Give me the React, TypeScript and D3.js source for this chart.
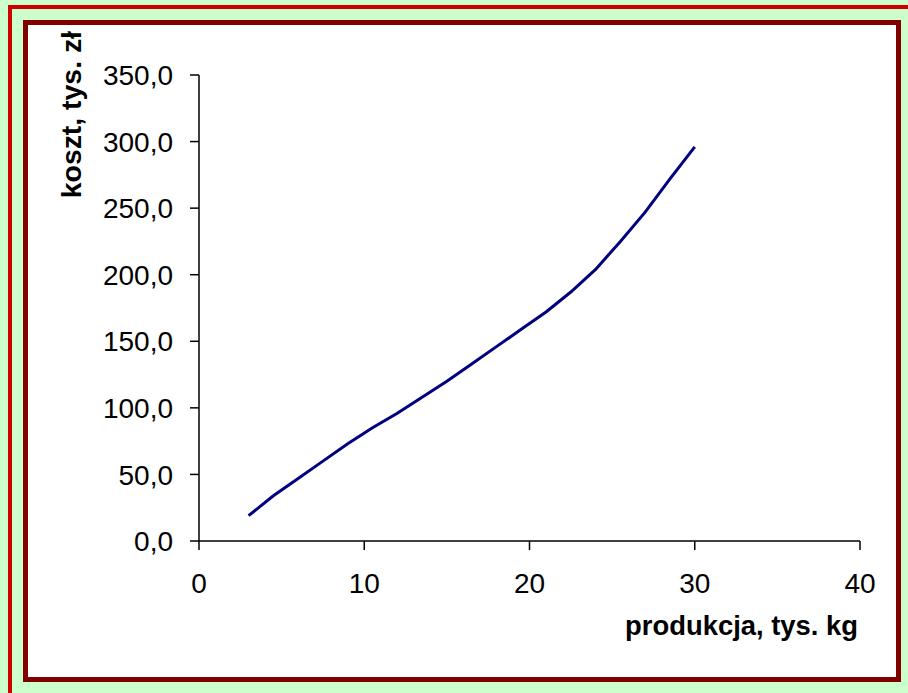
import React from "react";
import * as d3 from "d3";

const production: number[] = [3, 4.5, 6, 7.5, 9, 10.5, 12, 13.5, 15, 16.5, 18, 19.5, 21, 22.5, 24, 25.5, 27, 28.5, 30];
const cost: number[] = [19, 34, 47, 60, 73, 85, 96, 108, 120, 133, 146, 159, 172, 187, 204, 225, 247, 272, 296];
const xTicks: number[] = [0, 10, 20, 30, 40];
const yTicks: number[] = [0, 50, 100, 150, 200, 250, 300, 350];
const xTitle = "produkcja, tys. kg";
const yTitle = "koszt, tys. zł";

const W = 908;
const H = 693;

const locale = d3.formatLocale({ decimal: ",", thousands: " ", grouping: [3], currency: ["", " zł"] });
const fmtY = locale.format(".1f");
const fmtX = locale.format("d");

export default function App() {
  const x = d3.scaleLinear().domain([0, 40]).range([199, 860]);
  const y = d3.scaleLinear().domain([0, 350]).range([541, 75]);
  const pts = production.map((p, i) => [p, cost[i]] as [number, number]);
  const line = d3
    .line<[number, number]>()
    .x((d) => x(d[0]))
    .y((d) => y(d[1]))
    .curve(d3.curveLinear);
  const font = "'Liberation Sans', Arial, sans-serif";
  const tick = 9;
  return (
    <svg
      width={W}
      height={H}
      style={{ position: "absolute", left: 0, top: 0, display: "block" }}
      fontFamily={font}
    >
      <rect x={0} y={0} width={W} height={H} fill="#CCFFCC" />
      <rect x={10} y={7} width={1000} height={1000} fill="none" stroke="#CC0000" strokeWidth={4} />
      <rect x={25.5} y={22.5} width={873} height={657} fill="#FFFFFF" stroke="#800000" strokeWidth={5} />
      {/* y axis */}
      <line x1={x(0)} x2={x(0)} y1={y(350)} y2={y(0)} stroke="#000" strokeWidth={1.5} />
      {yTicks.map((t) => (
        <g key={"y" + t}>
          <line x1={x(0) - tick} x2={x(0)} y1={y(t)} y2={y(t)} stroke="#000" strokeWidth={1.5} />
          <text x={173} y={y(t)} dy="0.36em" textAnchor="end" fontSize={28} fill="#000">
            {fmtY(t)}
          </text>
        </g>
      ))}
      {/* x axis */}
      <line x1={x(0)} x2={x(40)} y1={y(0)} y2={y(0)} stroke="#000" strokeWidth={1.5} />
      {xTicks.map((t) => (
        <g key={"x" + t}>
          <line x1={x(t)} x2={x(t)} y1={y(0)} y2={y(0) + tick} stroke="#000" strokeWidth={1.5} />
          <text x={x(t)} y={593} textAnchor="middle" fontSize={28} fill="#000">
            {fmtX(t)}
          </text>
        </g>
      ))}
      <path d={line(pts) || ""} fill="none" stroke="#000080" strokeWidth={3} />
      <text x={858} y={635} textAnchor="end" fontSize={27.4} fontWeight="bold" fill="#000">
        {xTitle}
      </text>
      <text
        transform={`translate(81,31) rotate(-90)`}
        textAnchor="end"
        fontSize={28.4}
        fontWeight="bold"
        fill="#000"
      >
        {yTitle}
      </text>
    </svg>
  );
}
